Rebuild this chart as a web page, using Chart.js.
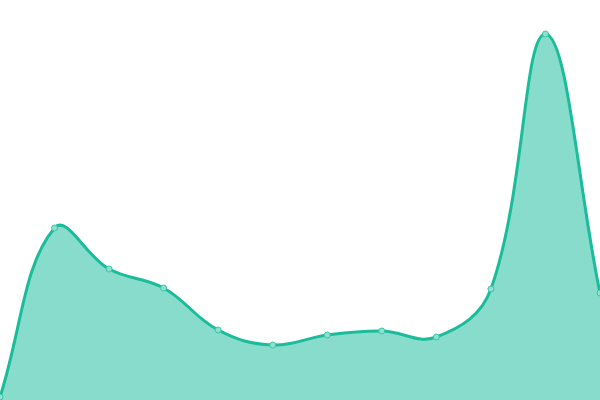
<!DOCTYPE html>
<html>
<head>
<meta charset="utf-8">
<script src="https://cdn.jsdelivr.net/npm/chart.js@4"></script>
<style>
  html, body { margin: 0; padding: 0; background: #fff; }
  #wrap { width: 600px; height: 400px; }
</style>
</head>
<body>
<div id="wrap"><canvas id="areaChart"></canvas></div>
<script>
// Data
const labels = ['Jan', 'Feb', 'Mar', 'Apr', 'May', 'Jun', 'Jul', 'Aug', 'Sep', 'Oct', 'Nov', 'Dec'];
const values = [3, 172, 131, 112, 70, 55, 65, 69, 63, 111, 366, 107];

const lineColor = '#1abc9c';
const fillColor = 'rgba(26, 188, 156, 0.52)';
const pointFill = '#8ee0d0';

const ctx = document.getElementById('areaChart').getContext('2d');
new Chart(ctx, {
    type: 'line',
    data: {
        labels: labels,
        datasets: [{
            data: values,
            borderColor: lineColor,
            backgroundColor: fillColor,
            borderWidth: 3,
            fill: true,
            tension: 0.4,
            pointRadius: 3,
            pointBorderWidth: 1,
            pointBackgroundColor: pointFill,
            pointBorderColor: '#3cc4a8'
        }]
    },
    options: {
        responsive: true,
        maintainAspectRatio: false,
        animation: false,
        layout: { padding: 0, autoPadding: false },
        plugins: {
            legend: { display: false },
            tooltip: { enabled: false }
        },
        scales: {
            x: { display: false },
            y: { display: false, min: 0, max: 400 }
        }
    }
});
</script>
</body>
</html>
